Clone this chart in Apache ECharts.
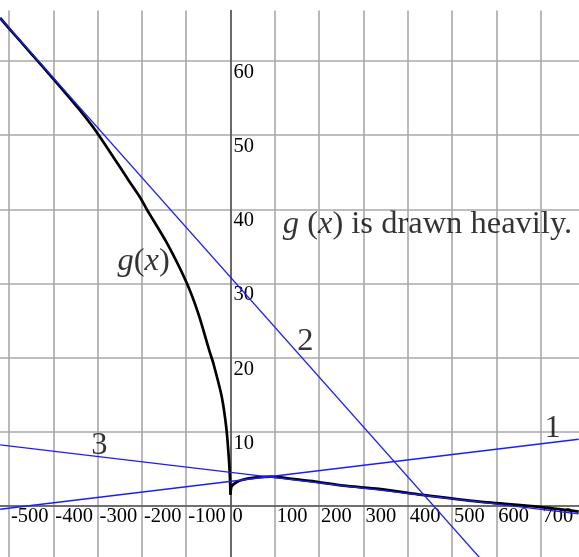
<!DOCTYPE html>
<html>
<head>
<meta charset="utf-8">
<script src="https://cdn.jsdelivr.net/npm/echarts@6/dist/echarts.min.js"></script>
<style>
  html, body { margin: 0; padding: 0; background: #fff; }
  #chart { width: 579px; height: 557px; }
</style>
</head>
<body>
<div id="chart"></div>
<script>
// Tick labels shown on the axes
const xTickLabels = [-500, -400, -300, -200, -100, 0, 100, 200, 300, 400, 500, 600, 700];
const yTickLabels = [10, 20, 30, 40, 50, 60];

// g(x): left branch (x <= 0) and right branch (x >= 0)
const gLeft = [
  [-520, 65.8], [-500, 64.4], [-450, 61.0], [-400, 57.6], [-346, 53.8],
  [-302, 50.4], [-231, 44.0], [-204, 41.6], [-189, 40.0], [-144, 35.5],
  [-99, 30.1], [-73, 26.0], [-46, 20.6], [-39, 19.3], [-20, 14.8],
  [-9, 10.3], [-3, 5.8], [-1, 3.4], [0, 1.5]
];
const gRight = [
  [0, 1.6], [1, 2.3], [3, 2.7], [10, 3.07], [25, 3.5], [55, 3.82],
  [93, 3.96], [138, 3.65], [191, 3.29], [255, 2.74], [335, 2.3],
  [433, 1.5], [561, 0.58], [696, -0.12], [786, -0.75]
];

// Straight lines 1, 2, 3 (end points)
const line1 = [[-520, -0.44], [786, 9.0]];
const line2 = [[-520, 65.8], [786, -22.0]];
const line3 = [[-520, 8.24], [786, -1.05]];

// Annotations
const noteTexts = ['1', '2', '3', '{i|g}({i|x})', '{i|g} ({i|x}) is drawn heavily.'];
const noteX = [727, 169, -296, -196, 118];
const noteY = [10.4, 22.2, 8.2, 33.0, 38.0];

const serif = "Liberation Serif, DejaVu Serif, serif";
const W = 579, H = 557;
// Pixel layout of the plotting frame
const X_MIN = -600, X_MAX = 800, Y_MIN = -10, Y_MAX = 66.8;
const pxPerX = 0.443, pxPerY = 7.417;
const originPx = 230.5, originPy = 506;
const gridLeft = originPx + X_MIN * pxPerX;            // negative: partly outside
const gridRight = W - (originPx + X_MAX * pxPerX);
const gridTop = originPy - Y_MAX * pxPerY;
const gridBottom = H - (originPy - Y_MIN * pxPerY);
const xAxisOffset = -(originPy - Y_MIN * pxPerY - originPy); // move x axis up to y = 0
const yAxisOffset = -(originPx - gridLeft);                   // move y axis right to x = 0

const chart = echarts.init(document.getElementById('chart'), null, { renderer: 'canvas' });

function pick(list) {
  return function (value) {
    const n = Number(value);
    const hit = list.find(t => Math.abs(t - n) < 1e-6);
    return hit === undefined ? '' : String(hit);
  };
}

const notes = noteTexts.map((t, i) => ({
  value: [noteX[i], noteY[i]],
  name: t,
  label: i === 4 ? { position: 'right', distance: 0 } : { position: 'inside' }
}));

chart.setOption({
  animation: false,
  backgroundColor: '#ffffff',
  grid: {
    left: gridLeft, right: gridRight, top: gridTop, bottom: gridBottom,
    containLabel: false, outerBoundsMode: 'none'
  },
  xAxis: {
    type: 'value', min: X_MIN, max: X_MAX, interval: 100,
    position: 'bottom', offset: xAxisOffset,
    axisLine: { onZero: false, lineStyle: { color: '#555', width: 1.6 } },
    axisTick: { show: false },
    splitLine: { show: true, lineStyle: { color: '#a8a8a8', width: 1.6 } },
    axisLabel: {
      show: true, showMinLabel: false, showMaxLabel: false,
      align: 'left', margin: 0, padding: [0, 0, 0, 2],
      color: '#000', fontFamily: serif, fontSize: 20.5,
      formatter: pick(xTickLabels)
    }
  },
  yAxis: {
    type: 'value', min: Y_MIN, max: Y_MAX, interval: 10,
    position: 'left', offset: yAxisOffset,
    axisLine: { onZero: false, lineStyle: { color: '#555', width: 1.6 } },
    axisTick: { show: false },
    splitLine: { show: true, showMaxLine: false, lineStyle: { color: '#a8a8a8', width: 1.6 } },
    axisLabel: {
      show: true, inside: true, showMaxLabel: false,
      align: 'left', verticalAlign: 'top', margin: 3, padding: [1, 0, 0, 0],
      color: '#000', fontFamily: serif, fontSize: 20.5,
      formatter: pick(yTickLabels)
    }
  },
  series: [
    { type: 'line', data: gLeft, smooth: 0.25, showSymbol: false,
      lineStyle: { color: '#000', width: 2.7 }, z: 3 },
    { type: 'line', data: gRight, smooth: 0.25, showSymbol: false,
      lineStyle: { color: '#000', width: 2.7 }, z: 3 },
    { type: 'line', data: line1, showSymbol: false, lineStyle: { color: '#1c1cff', width: 1.3 }, z: 4 },
    { type: 'line', data: line2, showSymbol: false, lineStyle: { color: '#1c1cff', width: 1.3 }, z: 4 },
    { type: 'line', data: line3, showSymbol: false, lineStyle: { color: '#1c1cff', width: 1.3 }, z: 4 },
    {
      type: 'scatter', data: notes, symbolSize: 0, z: 5, silent: true,
      label: {
        show: true, formatter: p => p.name,
        color: '#000', fontFamily: serif, fontSize: 32.5,
        rich: { i: { fontStyle: 'italic', fontFamily: serif, fontSize: 32.5, color: '#000' } }
      }
    }
  ]
});
</script>
</body>
</html>
